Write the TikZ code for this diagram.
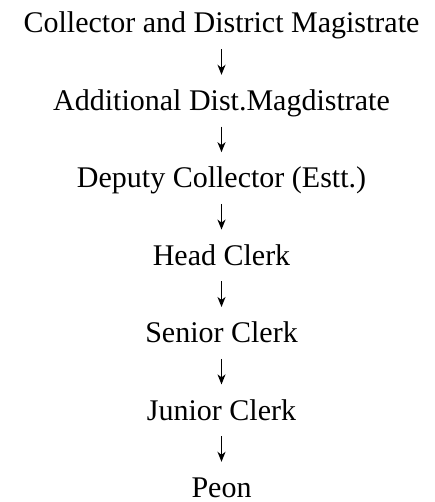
\documentclass[tikz,border=0pt]{standalone}
\usepackage{fontspec}
\setmainfont{Liberation Serif}
\usetikzlibrary{arrows.meta}
\begin{document}
\begin{tikzpicture}[x=1pt,y=-1pt,
  post/.style={anchor=base,inner sep=0pt,text height=20pt,text depth=6.5pt,font=\fontsize{30}{36}\selectfont},
  arr/.style={line width=1.4pt,-{Stealth[length=10pt,width=8pt,inset=3pt]},shorten <=9.5pt,shorten >=15.4pt}]
\useasboundingbox (0,0) rectangle (435,502);
\node[post] (a) at (221.5,33) {Collector and District Magistrate};
\node[post] (b) at (221.5,110.4) {Additional Dist.Magdistrate};
\node[post] (c) at (221.5,187.8) {Deputy Collector (Estt.)};
\node[post] (d) at (221.5,265.2) {Head Clerk};
\node[post] (e) at (221.5,342.6) {Senior Clerk};
\node[post] (f) at (221.5,420) {Junior Clerk};
\node[post,text depth=0pt] (g) at (221.5,497.4) {Peon};
\draw[arr] (a.south) -- (b.north);
\draw[arr] (b.south) -- (c.north);
\draw[arr] (c.south) -- (d.north);
\draw[arr] (d.south) -- (e.north);
\draw[arr] (e.south) -- (f.north);
\draw[arr] (f.south) -- (g.north);
\end{tikzpicture}
\end{document}
